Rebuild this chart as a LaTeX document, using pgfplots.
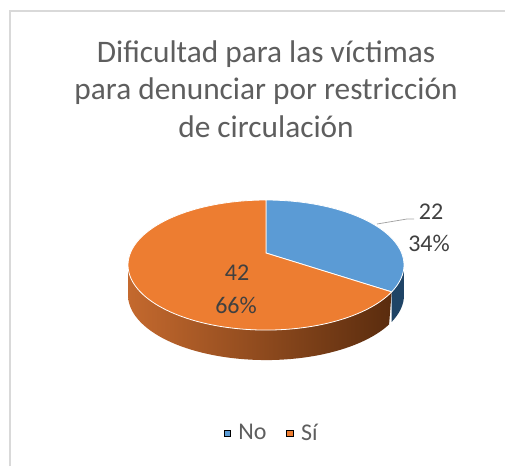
\documentclass[border=0pt]{standalone}
\usepackage{pgfplots}
\usepackage{pgfplotstable}
\pgfplotsset{compat=1.18}
\usepackage{fontspec}
\setmainfont{Carlito}

\definecolor{pieblue}{HTML}{5B9BD5}
\definecolor{pieorange}{HTML}{ED7D31}
\definecolor{sideoL}{HTML}{C4692E}
\definecolor{sideoR}{HTML}{5A2C0E}
\definecolor{sideb}{HTML}{1F4466}
\definecolor{txt}{HTML}{404040}
\definecolor{ttl}{HTML}{5E5E5E}
\definecolor{framegray}{HTML}{D9D9D9}

\pgfplotstableread{
label value
No 22
Si 42
}\piedata

% pie geometry, in pixels of the 505x466 picture (y downwards), with a little perspective
\def\cx{266}\def\cy{253}\def\R{135.6}\def\r{62.8}\def\kk{0.185}\def\dz{30}

\begin{document}
\begin{tikzpicture}
\pgfplotstablegetelem{0}{value}\of\piedata \let\vNo\pgfplotsretval
\pgfplotstablegetelem{1}{value}\of\piedata \let\vSi\pgfplotsretval
\pgfmathsetmacro\tot{\vNo+\vSi}
\pgfmathsetmacro\aEnd{90-360*\vNo/\tot}
\pgfmathsetmacro\aEndB{360+\aEnd}
\pgfmathsetmacro\aL{-180+asin(\kk)}
\pgfmathsetmacro\aR{-asin(\kk)}
\pgfmathtruncatemacro\pNo{round(100*\vNo/\tot)}
\pgfmathtruncatemacro\pSi{round(100*\vSi/\tot)}
\begin{axis}[
  at={(0pt,0pt)}, anchor=north west,
  scale only axis,
  width=378.75pt, height=349.5pt,
  xmin=0, xmax=505, ymin=0, ymax=466,
  enlargelimits=false,
  y dir=reverse,
  hide axis, clip=false,
  declare function={
    px(\a)=\cx+\R*cos(\a)/(1+\kk*sin(\a));
    py(\a)=\cy-\r*sin(\a)/(1+\kk*sin(\a));
    ang(\s,\a,\b)=ifthenelse(\s<=1, \a+(\b-\a)*\s, \b-(\b-\a)*(\s-1));
  },
  legend columns=2,
  legend style={at={(axis cs:272,433)}, anchor=center, draw=none, fill=none,
    font=\fontsize{18}{20}\selectfont, text=ttl,
    /tikz/every odd column/.append style={column sep=4pt},
    /tikz/every even column/.append style={column sep=13pt}},
  legend image code/.code={\fill[#1] (0pt,-2.3pt) rectangle (4.6pt,2.3pt);},
]
% chart frame
\addplot[draw=framegray, line width=1.5pt, forget plot] coordinates {(10,466) (10,11) (505,11)};

% side walls
\addplot[draw=none, left color=sideoL, right color=sideoR, domain=0:2, samples=121, variable=\t, forget plot]
  ({px(ang(\t,\aL,\aEnd))}, {py(ang(\t,\aL,\aEnd))+\dz*(\t>1)}) -- cycle;
\addplot[draw=none, fill=sideb, domain=0:2, samples=41, variable=\t, forget plot]
  ({px(ang(\t,\aEnd,\aR))}, {py(ang(\t,\aEnd,\aR))+\dz*(\t>1)}) -- cycle;

% top faces
\addplot[fill=pieblue, draw=white, line width=0.6pt, domain=\aEnd:90, samples=60, variable=\t, forget plot]
  ({px(\t)}, {py(\t)}) -- (axis cs:\cx,\cy) -- cycle;
\addplot[fill=pieorange, draw=white, line width=0.6pt, domain=90:\aEndB, samples=120, variable=\t, forget plot]
  ({px(\t)}, {py(\t)}) -- (axis cs:\cx,\cy) -- cycle;

% leader line
\addplot[draw=gray!70, line width=0.6pt, forget plot] coordinates {(377,224) (407,219) (414,219)};

% data labels
\node[text=txt, font=\fontsize{18}{20}\selectfont] at (axis cs:431,212) {\vNo};
\node[text=txt, font=\fontsize{18}{20}\selectfont] at (axis cs:429,243) {\pNo\%};
\node[text=txt, font=\fontsize{18}{20}\selectfont] at (axis cs:237,273) {\vSi};
\node[text=txt, font=\fontsize{18}{20}\selectfont] at (axis cs:236,305) {\pSi\%};

% title
\node[anchor=base, text=ttl, font=\fontsize{23.5}{28}\selectfont] at (axis cs:266,62) {Dificultad para las víctimas};
\node[anchor=base, text=ttl, font=\fontsize{23.5}{28}\selectfont] at (axis cs:266,99) {para denunciar por restricción};
\node[anchor=base, text=ttl, font=\fontsize{23.5}{28}\selectfont] at (axis cs:266,137) {de circulación};

% legend
\addlegendimage{fill=pieblue}
\addlegendentry{No}
\addlegendimage{fill=pieorange}
\addlegendentry{Sí}
\end{axis}
\pgfresetboundingbox
\useasboundingbox (0pt,0pt) rectangle (378.75pt,-349.5pt);
\end{tikzpicture}
\end{document}
